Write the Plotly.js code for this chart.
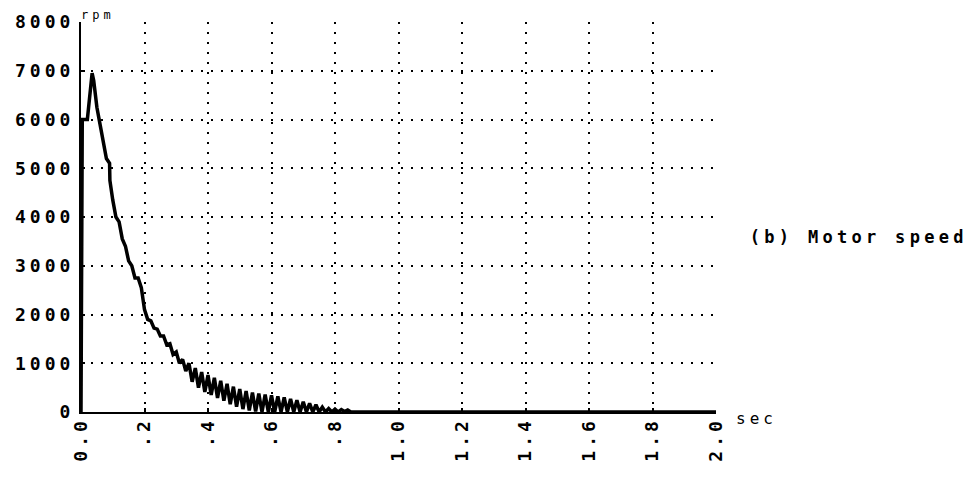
<!DOCTYPE html>
<html>
<head>
<meta charset="utf-8">
<script src="https://cdn.plot.ly/plotly-3.0.1.min.js"></script>
<style>
  html, body { margin: 0; padding: 0; background: #fff; }
  #chart { width: 973px; height: 478px; }
  .ytick text { letter-spacing: 4px !important; }
  .xtick text { letter-spacing: 4px !important; }
  .annotation-text.wide { letter-spacing: 4.3px !important; }
  .annotation-text.unit { letter-spacing: 4px !important; }
</style>
</head>
<body>
<div id="chart"></div>
<script>
// Motor speed response (rpm) against time (sec)
const timeSec = [
  0, 0.004, 0.02, 0.035, 0.04, 0.05, 0.06, 0.07, 0.08, 0.09, 0.091,
  0.10, 0.11, 0.12, 0.13, 0.14, 0.15, 0.16, 0.17, 0.18, 0.19,
  0.20, 0.21, 0.22, 0.23, 0.24, 0.25, 0.26, 0.27, 0.28, 0.29,
  0.30, 0.31, 0.32, 0.33, 0.34, 0.35, 0.36, 0.37, 0.38, 0.39,
  0.40, 0.41, 0.42, 0.43, 0.44, 0.45, 0.46, 0.47, 0.48, 0.49,
  0.50, 0.51, 0.52, 0.53, 0.54, 0.55, 0.56, 0.57, 0.58, 0.59,
  0.60, 0.61, 0.62, 0.63, 0.64, 0.65, 0.66, 0.67, 0.68, 0.69,
  0.70, 0.71, 0.72, 0.73, 0.74, 0.75, 0.76, 0.77, 0.78, 0.79,
  0.80, 0.81, 0.82, 0.83, 0.84, 0.85, 2.0
];
const speedRpm = [
  0, 6000, 6000, 6950, 6800, 6250, 5900, 5550, 5200, 5100, 4750,
  4350, 4000, 3900, 3550, 3400, 3100, 3000, 2750, 2750, 2550,
  2100, 1900, 1870, 1720, 1700, 1560, 1560, 1380, 1400, 1180,
  1230, 1000, 1080, 840, 1000, 620, 900, 500, 820, 410,
  760, 350, 700, 290, 640, 230, 580, 160, 520, 110,
  470, 60, 430, 30, 400, 10, 380, 0, 360, 0,
  340, 0, 320, 0, 300, 0, 270, 0, 240, 0,
  210, 0, 180, 0, 150, 0, 100, 0, 70, 0,
  60, 0, 50, 10, 40, 0, 0
];

const xTickVals = [0, 0.2, 0.4, 0.6, 0.8, 1.0, 1.2, 1.4, 1.6, 1.8, 2.0];
const xTickText = ['0.0', '.2', '.4', '.6', '.8', '1.0', '1.2', '1.4', '1.6', '1.8', '2.0'];
const yTickVals = [0, 1000, 2000, 3000, 4000, 5000, 6000, 7000, 8000];
const yTickText = ['0', '1000', '2000', '3000', '4000', '5000', '6000', '7000', '8000'];

const mono = 'DejaVu Sans Mono, Liberation Mono, monospace';

const trace = {
  x: timeSec,
  y: speedRpm,
  type: 'scatter',
  mode: 'lines',
  line: { color: '#000', width: 3.5 },
  hoverinfo: 'skip'
};

const layout = {
  width: 973,
  height: 478,
  margin: { l: 81, r: 257, t: 22, b: 66 },
  paper_bgcolor: '#fff',
  plot_bgcolor: '#fff',
  showlegend: false,
  xaxis: {
    range: [0, 2.0],
    tickvals: xTickVals,
    ticktext: xTickText,
    tickangle: -90,
    tickfont: { family: mono, size: 18, color: '#000', weight: 'bold' },
    ticks: 'inside',
    ticklen: 4,
    tickwidth: 2,
    tickcolor: '#000',
    ticklabelstandoff: -4,
    showline: true,
    linecolor: '#000',
    linewidth: 2,
    showgrid: true,
    gridcolor: '#000',
    gridwidth: 2,
    griddash: '2px,8px',
    zeroline: false,
    fixedrange: true
  },
  yaxis: {
    range: [0, 8000],
    tickvals: yTickVals,
    ticktext: yTickText,
    tickfont: { family: mono, size: 18, color: '#000', weight: 'bold' },
    ticks: 'inside',
    ticklen: 4,
    tickwidth: 2,
    tickcolor: '#000',
    ticklabelstandoff: 1,
    showline: true,
    linecolor: '#000',
    linewidth: 2,
    showgrid: true,
    gridcolor: '#000',
    gridwidth: 2,
    griddash: '2px,8px',
    zeroline: false,
    fixedrange: true
  },
  annotations: [
    {
      text: 'rpm', xref: 'paper', yref: 'paper', x: 0.006, y: 1.018,
      xanchor: 'left', yanchor: 'middle', showarrow: false,
      font: { family: mono, size: 12, color: '#000' }
    },
    {
      text: 'sec', xref: 'paper', yref: 'paper', x: 1.063, y: -0.016,
      xanchor: 'center', yanchor: 'middle', showarrow: false,
      font: { family: mono, size: 16, color: '#000' }
    },
    {
      text: '(b) Motor speed', xref: 'paper', yref: 'paper', x: 1.225, y: 0.449,
      xanchor: 'center', yanchor: 'middle', showarrow: false,
      font: { family: mono, size: 17, color: '#000', weight: 'bold' }
    }
  ]
};

Plotly.newPlot('chart', [trace], layout, { staticPlot: true, displayModeBar: false }).then(function () {
  // widen letter spacing on the side caption and the unit labels
  const anns = document.querySelectorAll('.annotation-text');
  anns.forEach(function (el) {
    if (el.textContent === '(b) Motor speed') el.classList.add('wide');
    if (el.textContent === 'sec' || el.textContent === 'rpm') el.classList.add('unit');
  });
});
</script>
</body>
</html>
